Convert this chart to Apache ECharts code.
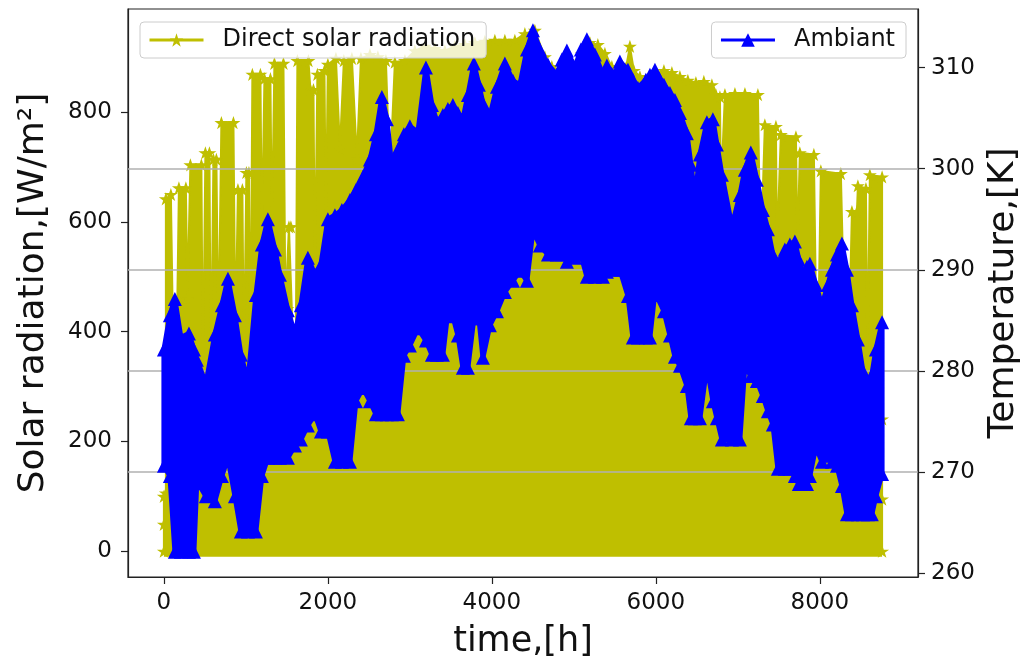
<!DOCTYPE html>
<html>
<head>
<meta charset="utf-8">
<title>Direct solar radiation and ambient temperature</title>
<script src="https://cdn.jsdelivr.net/npm/echarts@6.0.0/dist/echarts.min.js"></script>
<style>
  html, body { margin: 0; padding: 0; background: #fff; }
  #chart { width: 1033px; height: 666px; }
</style>
</head>
<body>
<div id="chart"></div>
<script>
// values; x is the hour of the year
var solarHours = [0, 0, 0, 24, 24, 85, 110, 159, 183, 268,
  287, 305, 323, 457, 476, 494, 506, 555, 573, 592,
  604, 640, 665, 683, 701, 848, 872, 884, 903, 957,
  976, 994, 1006, 1037, 1055, 1067, 1079, 1177, 1195, 1208,
  1226, 1299, 1317, 1336, 1348, 1458, 1482, 1506, 1525, 1549,
  1573, 1610, 1628, 1763, 1787, 1824, 1842, 1854, 1872, 1958,
  1976, 2000,
  2098, 2147, 2195, 2293, 2354, 2403, 2513, 2610, 2708, 2756,
  2817, 2940, 3061, 3183, 3305, 3427, 3549, 3671, 3793, 3915,
  4037, 4159, 4281, 4403, 4525, 4647, 4732, 4830, 4928, 5037,
  5098, 5196, 5293, 5379, 5464, 5562, 5635, 5684, 5732, 5806,
  5903, 6001, 6099, 6196, 6294, 6391, 6489, 6586,
  6684, 6733, 6782, 6794, 6818, 6843, 6965, 7087, 7245, 7269,
  7294, 7330, 7465, 7477, 7501, 7525, 7709, 7727, 7745, 7757,
  7928, 7952, 7989, 8013, 8257, 8294, 8367, 8392, 8453, 8465,
  8563, 8581, 8599, 8611, 8760, 8760, 8760, 8760];
var solarValues = [0, 49, 100, 106, 642, 650, 405, 405, 662, 662,
  460, 460, 704, 704, 296, 296, 726, 726, 296, 296,
  714, 714, 378, 378, 781, 781, 387, 387, 659, 659,
  332, 332, 690, 690, 305, 305, 869, 869, 569, 569,
  861, 861, 578, 578, 889, 889, 442, 442, 591, 591,
  387, 387, 894, 894, 841, 841, 496, 496, 869, 876,
  588, 887,
  898, 734, 894, 898, 715, 898, 905, 901, 894, 679,
  891, 894, 912, 920, 916, 912, 920, 923, 927, 929,
  931, 931, 931, 943, 949, 901, 883, 876, 894, 887,
  907, 927, 923, 907, 883, 876, 880, 920, 876, 865,
  854, 870, 876, 872, 865, 858, 854, 856,
  850, 832, 828, 657, 657, 832, 834, 834, 832, 602,
  602, 777, 774, 551, 551, 759, 755, 551, 551, 726,
  723, 469, 469, 693, 688, 460, 460, 619, 619, 666,
  661, 332, 332, 686, 682, 241, 95, 0];

var tempHours = [0, 73, 134, 207, 305, 366, 402, 512, 622, 707, 781, 866, 939, 1025, 1122, 1195, 1268, 1354, 1415, 1512,
  1598, 1671, 1756, 1842, 1915, 2000, 2086, 2171, 2269, 2342, 2427, 2513, 2586, 2659, 2720, 2781, 2854, 2927, 3000, 3098,
  3196, 3269, 3330, 3403, 3464, 3525, 3586, 3647, 3708, 3781, 3842, 3891, 3976, 4062, 4159, 4257, 4342, 4428, 4501, 4586,
  4684, 4793, 4854, 4915, 5013, 5086, 5159, 5257, 5354, 5403, 5501, 5562, 5660, 5720, 5781, 5879, 5928, 5989, 6099, 6172,
  6233, 6294, 6379, 6428, 6477, 6538, 6623, 6696, 6745, 6806, 6928, 7025, 7086, 7159, 7233, 7306, 7367, 7428, 7489, 7574,
  7635, 7696, 7745, 7794, 7843, 7879, 7952, 8026, 8099, 8148, 8209, 8270, 8331, 8392, 8465, 8526, 8587, 8635, 8684, 8760];
var tempMax = [282.1, 285.5, 287.1, 283.3, 283.7, 282.1, 281.1, 278.7, 283.6, 286.5, 289.1, 285.5, 281.6, 278.9, 287.5, 292.5, 295.0, 292.0, 289.5, 286.0,
  283.6, 286.5, 291.2, 289.5, 290.5, 295.0, 295.4, 295.9, 296.9, 297.9, 299.2, 300.9, 303.4, 307.1, 304.9, 300.1, 301.9, 303.4, 304.2, 303.6,
  310.0, 306.3, 304.6, 305.3, 305.9, 306.3, 305.5, 304.9, 307.3, 310.4, 308.3, 306.5, 305.2, 308.1, 310.4, 308.7, 308.3, 311.8, 313.7, 311.8,
  310.3, 309.3, 310.8, 311.7, 310.0, 311.8, 312.8, 311.3, 309.3, 310.2, 309.3, 310.6, 309.8, 308.8, 308.0, 308.8, 309.3, 309.8, 308.3, 307.5,
  306.8, 305.5, 303.5, 300.4, 297.2, 301.4, 304.6, 304.9, 302.4, 299.4, 294.3, 297.4, 299.9, 301.6, 298.9, 295.9, 294.0, 291.5, 290.6, 292.0,
  292.5, 292.8, 291.0, 289.5, 290.3, 290.6, 288.5, 286.5, 288.5, 290.0, 291.5, 292.6, 290.0, 286.5, 283.1, 280.0, 277.8, 279.6, 282.1, 284.8];
var tempMin = [270.6, 269.6, 262.1, 262.1, 262.1, 262.1, 269.1, 267.6, 267.1, 269.6, 271.4, 267.6, 264.1, 264.1, 264.1, 269.6, 271.4, 271.4, 271.4, 271.4,
  272.6, 273.2, 274.6, 275.7, 274.0, 274.0, 271.0, 271.0, 271.0, 277.0, 278.3, 277.0, 275.7, 275.7, 275.7, 275.7, 275.7, 281.5, 282.5, 284.2,
  283.0, 281.6, 281.6, 281.6, 285.9, 285.4, 283.5, 280.3, 280.3, 285.2, 285.2, 281.3, 284.5, 285.9, 287.8, 288.9, 289.9, 288.9, 293.9, 292.4,
  291.5, 291.5, 291.5, 290.8, 291.2, 291.5, 289.3, 289.3, 289.3, 289.8, 290.0, 290.0, 287.4, 283.3, 283.3, 283.3, 283.3, 287.8, 285.9, 283.5,
  281.4, 280.5, 278.5, 275.3, 275.3, 275.3, 280.5, 277.0, 275.3, 273.2, 273.2, 273.2, 280.5, 279.5, 279.0, 277.5, 276.0, 274.7, 270.3, 270.3,
  270.3, 269.6, 268.8, 268.8, 268.8, 269.6, 272.5, 271.0, 271.6, 271.0, 270.6, 268.6, 265.8, 265.8, 265.8, 265.8, 265.8, 265.8, 267.6, 269.8];

var xTicks = [0, 2000, 4000, 6000, 8000];
var solarTicks = [0, 200, 400, 600, 800];
var tempTicks = [260, 270, 280, 290, 300, 310];

var font = 'DejaVu Sans';
var yellow = '#bfbf00';
var blue = '#0000ff';
var star = 'path://M50,0L61.8,35.1L98.9,35.1L68.9,56.8L80.3,91.9L50,70.2L19.7,91.9L31.1,56.8L1.1,35.1L38.2,35.1Z';

var solarData = solarHours.map(function (h, i) { return [h, solarValues[i]]; });
var highData = tempHours.map(function (h, i) { return [h, tempMax[i]]; });
var lowData = tempHours.map(function (h, i) { return [h, tempMin[i]]; });
// outline of the daily temperature band: top edge forward, bottom edge back
var bandData = highData.concat(lowData.slice().reverse());

function renderBand(params, api) {
  if (params.dataIndexInside !== 0) return null;
  var pts = [];
  for (var i = 0; i < params.dataInsideLength; i++) {
    pts.push(api.coord([api.value(0, i), api.value(1, i)]));
  }
  return {
    type: 'polygon',
    shape: { points: pts },
    style: { fill: blue, stroke: blue, lineWidth: 5, lineJoin: 'round' }
  };
}

var chart = echarts.init(document.getElementById('chart'));

var legendBase = {
  top: 22,
  orient: 'horizontal',
  padding: [6, 11, 6, 8],
  itemWidth: 54,
  itemHeight: 17,
  backgroundColor: 'rgba(255,255,255,0.8)',
  borderColor: '#cccccc',
  borderWidth: 1,
  borderRadius: 4,
  textStyle: { fontFamily: font, fontSize: 24, color: '#111', padding: [0, 0, 0, 14] },
  lineStyle: { width: 3 },
  z: 10
};

function plain(v) { return String(v); }

chart.setOption({
  animation: false,
  grid: { left: 128, right: 115, top: 9, bottom: 89, show: true, borderColor: '#222', borderWidth: 1.2 },
  legend: [
    Object.assign({}, legendBase, { data: ['Direct solar radiation'], left: 140 }),
    Object.assign({}, legendBase, { data: ['Ambiant'], right: 127 })
  ],
  xAxis: {
    type: 'value',
    min: -438,
    max: 9198,
    name: 'time,[h]',
    nameLocation: 'middle',
    nameGap: 47,
    nameTextStyle: { fontFamily: font, fontSize: 35, color: '#111' },
    axisLine: { show: true, onZero: false, lineStyle: { color: '#222', width: 1.2 } },
    axisTick: { show: true, length: 7, customValues: xTicks, lineStyle: { color: '#222', width: 1.2 } },
    axisLabel: { fontFamily: font, fontSize: 23, color: '#111', margin: 15, customValues: xTicks, formatter: plain },
    splitLine: { show: false }
  },
  yAxis: [
    {
      type: 'value',
      position: 'left',
      min: -47,
      max: 988,
      name: 'Solar radiation,[W/m²]',
      nameLocation: 'middle',
      nameRotate: 90,
      nameGap: 76,
      nameTextStyle: { fontFamily: font, fontSize: 36, color: '#111' },
      axisLine: { show: true, onZero: false, lineStyle: { color: '#222', width: 1.2 } },
      axisTick: { show: true, length: 7, customValues: solarTicks, lineStyle: { color: '#222', width: 1.2 } },
      axisLabel: { fontFamily: font, fontSize: 23, color: '#111', margin: 16, customValues: solarTicks, formatter: plain },
      splitLine: { show: false }
    },
    {
      type: 'value',
      position: 'right',
      min: 259.6,
      max: 315.8,
      z: 3,
      name: 'Temperature,[K]',
      nameLocation: 'middle',
      nameRotate: 90,
      nameGap: 66,
      nameTextStyle: { fontFamily: font, fontSize: 36, color: '#111' },
      axisLine: { show: true, onZero: false, lineStyle: { color: '#222', width: 1.2 } },
      axisTick: { show: true, length: 7, customValues: tempTicks, lineStyle: { color: '#222', width: 1.2 } },
      axisLabel: { fontFamily: font, fontSize: 23, color: '#111', margin: 13, customValues: tempTicks, formatter: plain },
      splitLine: { show: true, showMinLine: false, showMaxLine: false, lineStyle: { color: '#b0b0b0', width: 1.5 } }
    }
  ],
  series: [
    {
      name: 'Direct solar radiation',
      type: 'line',
      yAxisIndex: 0,
      z: 2,
      data: solarData,
      symbol: star,
      symbolSize: 14,
      symbolKeepAspect: true,
      showAllSymbol: true,
      itemStyle: { color: yellow },
      lineStyle: { color: yellow, width: 2, join: 'round' },
      areaStyle: { color: yellow, opacity: 1, origin: -10 }
    },
    {
      name: 'Ambiant band',
      type: 'custom',
      yAxisIndex: 1,
      z: 4,
      clip: true,
      encode: { x: 0, y: 1 },
      data: bandData,
      renderItem: renderBand
    },
    {
      name: 'Ambiant',
      type: 'line',
      yAxisIndex: 1,
      z: 4,
      data: highData,
      symbol: 'triangle',
      symbolSize: 14,
      showAllSymbol: true,
      itemStyle: { color: blue },
      lineStyle: { color: blue, width: 1.5 }
    },
    {
      name: 'Ambiant low',
      type: 'line',
      yAxisIndex: 1,
      z: 4,
      data: lowData,
      symbol: 'triangle',
      symbolSize: 14,
      showAllSymbol: true,
      itemStyle: { color: blue },
      lineStyle: { color: blue, width: 1.5 }
    }
  ]
});
</script>
</body>
</html>
